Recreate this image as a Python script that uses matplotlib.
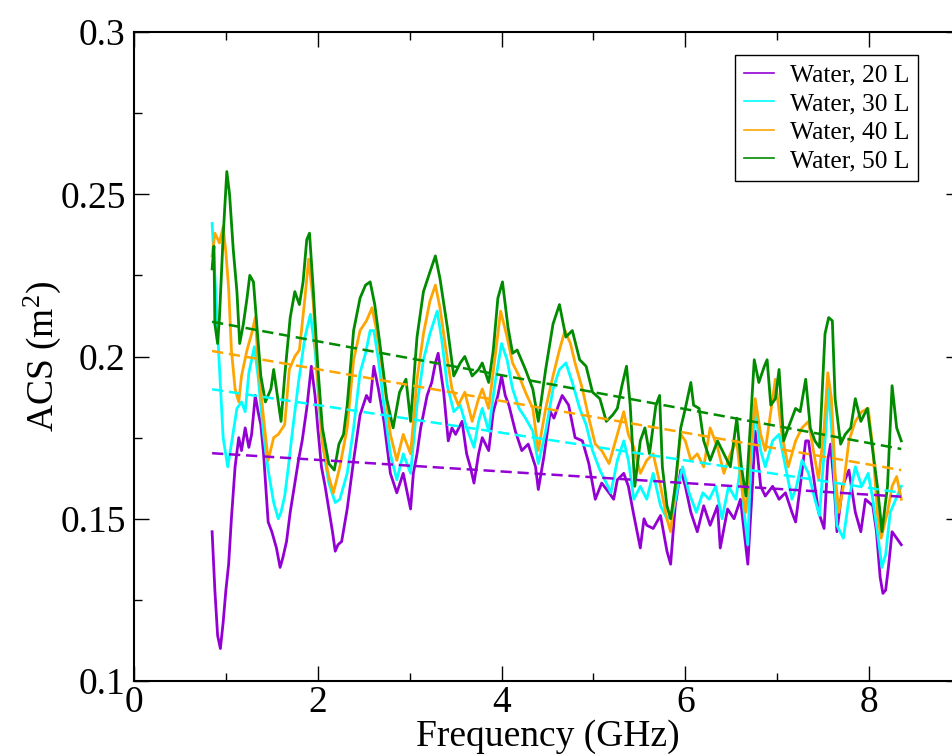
import matplotlib
matplotlib.use("Agg")
import matplotlib.pyplot as plt
from matplotlib.ticker import MultipleLocator, FixedLocator

plt.rcParams['font.family'] = ['Liberation Serif', 'DejaVu Serif']
plt.rcParams['mathtext.fontset'] = 'custom'
plt.rcParams['mathtext.rm'] = 'Liberation Serif'
plt.rcParams['mathtext.it'] = 'Liberation Serif:italic'

labels = ["Water, 20 L", "Water, 30 L", "Water, 40 L", "Water, 50 L"]
colors = ["#9400D3", "#00FFFF", "#FFA500", "#008B00"]

f20 = [0.85, 0.88, 0.91, 0.94, 0.97, 1.00, 1.03, 1.06, 1.10, 1.14,
       1.17, 1.21, 1.25, 1.28, 1.32, 1.35, 1.38, 1.41, 1.46, 1.50,
       1.55, 1.59, 1.62, 1.66, 1.70, 1.75, 1.79, 1.83, 1.88, 1.93,
       1.97, 2.00, 2.04, 2.08, 2.12, 2.16, 2.19, 2.22, 2.26, 2.32,
       2.39, 2.46, 2.53, 2.57, 2.61, 2.66, 2.72, 2.79, 2.86, 2.93,
       3.01, 3.04, 3.08, 3.12, 3.19, 3.24, 3.28, 3.31, 3.37, 3.42,
       3.46, 3.50, 3.57, 3.62, 3.66, 3.70, 3.75, 3.79, 3.86, 3.91,
       3.96, 4.00, 4.04, 4.08, 4.15, 4.22, 4.29, 4.37, 4.40, 4.46,
       4.53, 4.57, 4.62, 4.66, 4.73, 4.80, 4.88, 4.95, 5.02, 5.09,
       5.17, 5.22, 5.26, 5.33, 5.38, 5.44, 5.51, 5.55, 5.58, 5.65,
       5.73, 5.80, 5.84, 5.89, 5.95, 6.00, 6.06, 6.13, 6.20, 6.27,
       6.35, 6.38, 6.46, 6.53, 6.60, 6.64, 6.68, 6.73, 6.76, 6.82,
       6.87, 6.95, 7.02, 7.09, 7.16, 7.20, 7.25, 7.31, 7.34, 7.40,
       7.45, 7.51, 7.55, 7.58, 7.62, 7.65, 7.71, 7.78, 7.85, 7.91,
       7.96, 8.04, 8.08, 8.12, 8.15, 8.18, 8.21, 8.25, 8.30, 8.35]
acs20 = [0.146, 0.128, 0.114, 0.110, 0.118, 0.128, 0.136, 0.150, 0.166, 0.175,
         0.171, 0.178, 0.172, 0.176, 0.188, 0.183, 0.179, 0.170, 0.149, 0.146,
         0.141, 0.135, 0.138, 0.143, 0.152, 0.161, 0.168, 0.174, 0.184, 0.197,
         0.188, 0.178, 0.166, 0.160, 0.153, 0.146, 0.140, 0.142, 0.143, 0.153,
         0.168, 0.182, 0.188, 0.186, 0.197, 0.190, 0.180, 0.164, 0.158, 0.164,
         0.153, 0.164, 0.170, 0.178, 0.188, 0.192, 0.198, 0.201, 0.189, 0.174,
         0.178, 0.176, 0.180, 0.170, 0.166, 0.161, 0.170, 0.175, 0.171, 0.183,
         0.188, 0.194, 0.188, 0.185, 0.177, 0.171, 0.173, 0.166, 0.159, 0.169,
         0.183, 0.181, 0.185, 0.188, 0.185, 0.175, 0.174, 0.167, 0.156, 0.161,
         0.158, 0.156, 0.162, 0.164, 0.160, 0.151, 0.141, 0.150, 0.148, 0.147,
         0.151, 0.140, 0.136, 0.154, 0.165, 0.160, 0.152, 0.146, 0.154, 0.148,
         0.154, 0.141, 0.153, 0.150, 0.156, 0.146, 0.136, 0.160, 0.177, 0.160,
         0.157, 0.160, 0.156, 0.158, 0.152, 0.149, 0.160, 0.174, 0.174, 0.162,
         0.152, 0.147, 0.168, 0.173, 0.160, 0.146, 0.160, 0.165, 0.152, 0.146,
         0.156, 0.154, 0.146, 0.132, 0.127, 0.128, 0.135, 0.146, 0.144, 0.142]

f30 = [0.85, 0.88, 0.92, 0.97, 1.02, 1.06, 1.12, 1.17, 1.21, 1.25,
       1.31, 1.35, 1.41, 1.46, 1.52, 1.57, 1.60, 1.64, 1.68, 1.72,
       1.79, 1.86, 1.92, 1.97, 2.04, 2.08, 2.12, 2.19, 2.24, 2.32,
       2.39, 2.46, 2.52, 2.57, 2.61, 2.66, 2.72, 2.79, 2.86, 2.93,
       3.01, 3.08, 3.15, 3.22, 3.30, 3.35, 3.41, 3.48, 3.55, 3.62,
       3.70, 3.75, 3.79, 3.86, 3.93, 4.00, 4.06, 4.12, 4.19, 4.26,
       4.34, 4.40, 4.48, 4.56, 4.63, 4.70, 4.77, 4.85, 4.92, 4.99,
       5.07, 5.14, 5.19, 5.26, 5.33, 5.38, 5.44, 5.51, 5.58, 5.65,
       5.73, 5.80, 5.86, 5.92, 5.97, 6.04, 6.12, 6.19, 6.26, 6.33,
       6.40, 6.47, 6.55, 6.60, 6.64, 6.68, 6.71, 6.76, 6.82, 6.87,
       6.95, 7.02, 7.09, 7.16, 7.21, 7.27, 7.34, 7.41, 7.46, 7.52,
       7.56, 7.60, 7.65, 7.72, 7.78, 7.85, 7.92, 7.99, 8.04, 8.09,
       8.14, 8.18, 8.23, 8.29, 8.35]
acs30 = [0.241, 0.225, 0.202, 0.175, 0.166, 0.173, 0.184, 0.186, 0.183, 0.195,
         0.203, 0.194, 0.176, 0.165, 0.155, 0.150, 0.152, 0.157, 0.166, 0.176,
         0.192, 0.206, 0.213, 0.202, 0.176, 0.168, 0.161, 0.155, 0.156, 0.164,
         0.178, 0.195, 0.201, 0.208, 0.208, 0.199, 0.185, 0.170, 0.162, 0.170,
         0.164, 0.185, 0.199, 0.207, 0.214, 0.205, 0.191, 0.183, 0.185, 0.178,
         0.172, 0.180, 0.184, 0.177, 0.192, 0.204, 0.199, 0.190, 0.184, 0.181,
         0.177, 0.167, 0.177, 0.190, 0.196, 0.198, 0.192, 0.184, 0.179, 0.171,
         0.165, 0.161, 0.158, 0.168, 0.174, 0.168, 0.156, 0.160, 0.156, 0.164,
         0.154, 0.150, 0.151, 0.160, 0.166, 0.158, 0.152, 0.158, 0.156, 0.160,
         0.150, 0.160, 0.156, 0.166, 0.152, 0.142, 0.166, 0.184, 0.171, 0.166,
         0.174, 0.176, 0.166, 0.156, 0.160, 0.168, 0.164, 0.156, 0.151, 0.174,
         0.190, 0.174, 0.148, 0.144, 0.156, 0.166, 0.160, 0.164, 0.156, 0.146,
         0.135, 0.139, 0.152, 0.156, 0.160]

f40 = [0.85, 0.88, 0.93, 0.97, 1.00, 1.03, 1.06, 1.10, 1.14, 1.17,
       1.23, 1.28, 1.32, 1.35, 1.41, 1.46, 1.52, 1.57, 1.64, 1.69,
       1.75, 1.80, 1.86, 1.90, 1.95, 2.00, 2.05, 2.12, 2.17, 2.24,
       2.32, 2.39, 2.46, 2.53, 2.59, 2.64, 2.72, 2.79, 2.86, 2.93,
       3.01, 3.08, 3.15, 3.22, 3.28, 3.33, 3.39, 3.46, 3.53, 3.60,
       3.68, 3.75, 3.79, 3.86, 3.93, 3.99, 4.06, 4.12, 4.19, 4.26,
       4.34, 4.40, 4.48, 4.56, 4.63, 4.69, 4.75, 4.80, 4.88, 4.95,
       5.02, 5.09, 5.17, 5.26, 5.33, 5.38, 5.44, 5.51, 5.58, 5.65,
       5.73, 5.80, 5.84, 5.89, 5.95, 6.00, 6.06, 6.13, 6.20, 6.27,
       6.35, 6.42, 6.49, 6.56, 6.61, 6.66, 6.71, 6.76, 6.82, 6.87,
       6.93, 6.98, 7.05, 7.12, 7.20, 7.27, 7.34, 7.40, 7.45, 7.51,
       7.55, 7.59, 7.63, 7.67, 7.72, 7.78, 7.85, 7.92, 7.99, 8.04,
       8.09, 8.13, 8.20, 8.25, 8.30, 8.35]
acs40 = [0.231, 0.238, 0.235, 0.240, 0.232, 0.221, 0.202, 0.190, 0.186, 0.194,
         0.202, 0.207, 0.212, 0.198, 0.181, 0.168, 0.175, 0.176, 0.179, 0.196,
         0.200, 0.202, 0.218, 0.230, 0.217, 0.192, 0.173, 0.163, 0.158, 0.166,
         0.178, 0.199, 0.208, 0.211, 0.215, 0.208, 0.193, 0.176, 0.168, 0.176,
         0.170, 0.193, 0.207, 0.217, 0.222, 0.215, 0.203, 0.190, 0.185, 0.189,
         0.180, 0.187, 0.190, 0.184, 0.200, 0.214, 0.206, 0.198, 0.194, 0.189,
         0.184, 0.171, 0.184, 0.194, 0.202, 0.208, 0.204, 0.198, 0.190, 0.181,
         0.173, 0.171, 0.167, 0.176, 0.183, 0.176, 0.172, 0.164, 0.168, 0.170,
         0.160, 0.150, 0.146, 0.160, 0.176, 0.174, 0.168, 0.170, 0.166, 0.178,
         0.172, 0.164, 0.170, 0.174, 0.160, 0.152, 0.172, 0.187, 0.176, 0.171,
         0.183, 0.193, 0.176, 0.166, 0.174, 0.178, 0.180, 0.170, 0.162, 0.178,
         0.195, 0.187, 0.164, 0.152, 0.160, 0.174, 0.180, 0.183, 0.184, 0.172,
         0.152, 0.144, 0.152, 0.160, 0.163, 0.156]

f50 = [0.85, 0.87, 0.88, 0.91, 0.93, 0.97, 1.01, 1.04, 1.08, 1.12,
       1.15, 1.19, 1.23, 1.26, 1.30, 1.33, 1.38, 1.43, 1.49, 1.52,
       1.56, 1.60, 1.64, 1.70, 1.75, 1.80, 1.84, 1.88, 1.91, 1.95,
       2.00, 2.05, 2.12, 2.18, 2.23, 2.28, 2.32, 2.39, 2.46, 2.52,
       2.57, 2.62, 2.68, 2.75, 2.82, 2.89, 2.96, 3.01, 3.08, 3.15,
       3.22, 3.28, 3.33, 3.41, 3.48, 3.55, 3.60, 3.68, 3.75, 3.79,
       3.86, 3.91, 3.96, 4.01, 4.07, 4.12, 4.17, 4.26, 4.34, 4.40,
       4.48, 4.56, 4.63, 4.70, 4.77, 4.85, 4.92, 4.99, 5.07, 5.14,
       5.21, 5.26, 5.31, 5.36, 5.40, 5.45, 5.51, 5.56, 5.61, 5.68,
       5.72, 5.75, 5.80, 5.84, 5.89, 5.95, 6.00, 6.06, 6.09, 6.15,
       6.20, 6.27, 6.35, 6.42, 6.49, 6.56, 6.61, 6.66, 6.71, 6.75,
       6.80, 6.86, 6.89, 6.93, 6.98, 7.02, 7.07, 7.12, 7.20, 7.25,
       7.31, 7.36, 7.41, 7.46, 7.52, 7.56, 7.60, 7.63, 7.69, 7.74,
       7.80, 7.85, 7.91, 7.98, 8.03, 8.09, 8.14, 8.20, 8.25, 8.30,
       8.35]
acs50 = [0.227, 0.234, 0.210, 0.204, 0.212, 0.237, 0.257, 0.250, 0.233, 0.220,
         0.204, 0.210, 0.218, 0.225, 0.223, 0.212, 0.194, 0.186, 0.190, 0.196,
         0.188, 0.180, 0.194, 0.212, 0.220, 0.216, 0.223, 0.236, 0.238, 0.221,
         0.197, 0.178, 0.167, 0.165, 0.173, 0.176, 0.185, 0.208, 0.218, 0.222,
         0.223, 0.216, 0.203, 0.187, 0.178, 0.189, 0.193, 0.180, 0.206, 0.220,
         0.226, 0.231, 0.224, 0.209, 0.194, 0.198, 0.200, 0.194, 0.196, 0.198,
         0.192, 0.202, 0.218, 0.223, 0.209, 0.201, 0.202, 0.196, 0.190, 0.180,
         0.196, 0.210, 0.216, 0.206, 0.208, 0.199, 0.197, 0.189, 0.187, 0.180,
         0.182, 0.184, 0.191, 0.197, 0.185, 0.160, 0.174, 0.178, 0.170, 0.185,
         0.188, 0.166, 0.154, 0.150, 0.160, 0.178, 0.184, 0.192, 0.185, 0.184,
         0.174, 0.168, 0.174, 0.170, 0.166, 0.181, 0.166, 0.157, 0.180, 0.199,
         0.192, 0.197, 0.199, 0.185, 0.187, 0.196, 0.174, 0.178, 0.184, 0.183,
         0.193, 0.178, 0.174, 0.172, 0.207, 0.212, 0.211, 0.187, 0.173, 0.176,
         0.178, 0.187, 0.180, 0.184, 0.173, 0.160, 0.146, 0.160, 0.191, 0.178,
         0.174]

fit_f = [0.85, 8.35]
fit20 = [0.1702, 0.1568]
fit30 = [0.1899, 0.1580]
fit40 = [0.2017, 0.1650]
fit50 = [0.2107, 0.1715]

W, H = 952, 754
fig = plt.figure(figsize=(W / 100, H / 100), dpi=100)
x0, x1, y0, y1 = 134, 961, 32, 681
ax = fig.add_axes([x0 / W, (H - y1) / H, (x1 - x0) / W, (y1 - y0) / H])

series = [(f20, acs20), (f30, acs30), (f40, acs40), (f50, acs50)]
fits = [fit20, fit30, fit40, fit50]
handles = []
for (fx, fy), c, lab in zip(series, colors, labels):
    h, = ax.plot(fx, fy, color=c, lw=2.0, label=lab)
    handles.append(h)
for fv, c in zip(fits, colors):
    ax.plot(fit_f, fv, color=c, lw=1.8, dashes=(4.5, 2.3))

ax.set_xlim(0, 9)
ax.set_ylim(0.1, 0.3)
ax.xaxis.set_major_locator(FixedLocator([0, 2, 4, 6, 8]))
ax.xaxis.set_minor_locator(MultipleLocator(1))
ax.yaxis.set_major_locator(FixedLocator([0.1, 0.15, 0.2, 0.25, 0.3]))
ax.yaxis.set_minor_locator(MultipleLocator(0.025))
ax.set_xticklabels(["0", "2", "4", "6", "8"])
ax.set_yticklabels(["0.1", "0.15", "0.2", "0.25", "0.3"])
ax.tick_params(which='both', direction='in', top=True, right=True, width=1.0)
ax.tick_params(which='major', length=11)
ax.tick_params(which='minor', length=6)
ax.tick_params(axis='x', which='major', labelsize=27, pad=3)
ax.tick_params(axis='y', which='major', labelsize=27, pad=6)
for s in ax.spines.values():
    s.set_linewidth(1.5)

ax.set_xlabel("Frequency (GHz)", fontsize=27, labelpad=0)
ax.set_ylabel(r"ACS (m$^{\mathrm{2}}$)", fontsize=27, labelpad=-2)

leg = ax.legend(handles=handles, loc='upper right', bbox_to_anchor=((918 - x0) / (x1 - x0), (y1 - 55) / (y1 - y0)),
                borderaxespad=0, fontsize=18.4, frameon=True, fancybox=False, framealpha=1,
                edgecolor='black', handlelength=1.2, handletextpad=0.6, labelspacing=0.22,
                borderpad=0.35)
leg.get_frame().set_linewidth(1.0)
for lh in leg.get_lines():
    lh.set_linewidth(1.2)

fig.savefig("out.png", dpi=100)
